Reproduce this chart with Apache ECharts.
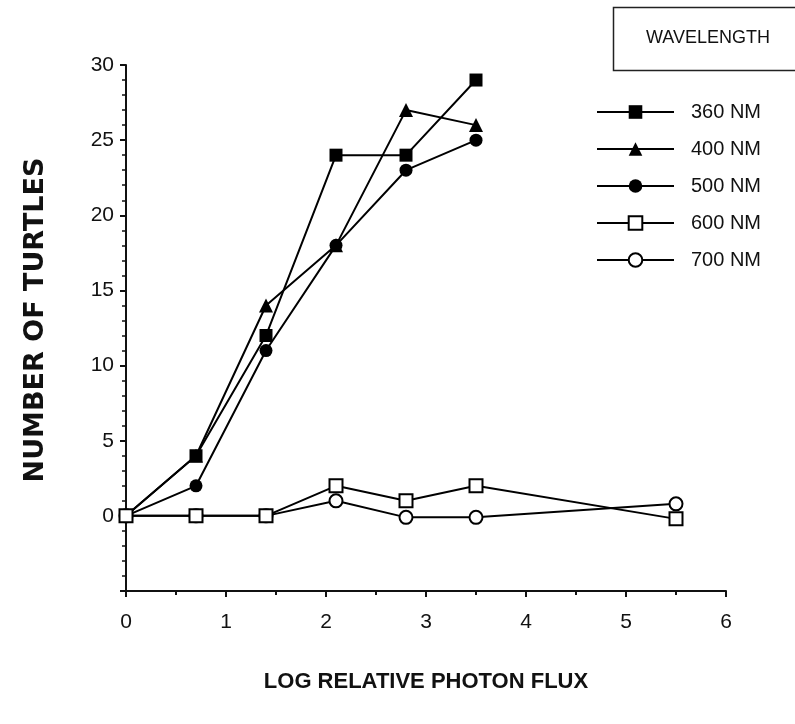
<!DOCTYPE html>
<html>
<head>
<meta charset="utf-8">
<script src="https://cdn.jsdelivr.net/npm/echarts@6/dist/echarts.min.js"></script>
<style>html,body{margin:0;padding:0;background:#fff;}#c{width:795px;height:724px;}</style>
</head>
<body>
<div id="c"></div>
<script>
const fluxX = [0, 0.7, 1.4, 2.1, 2.8, 3.5, 5.5];
const seriesNames = ['360 NM', '400 NM', '500 NM', '600 NM', '700 NM'];
const y360 = [0, 4, 12, 24, 24, 29];
const y400 = [0, 4, 14, 18, 27, 26];
const y500 = [0, 2, 11, 18, 23, 25];
const y600 = [0, 0, 0, 2, 1, 2, -0.2];
const y700 = [0, 0, 0, 1, -0.1, -0.1, 0.8];
const xTicks = [0, 1, 2, 3, 4, 5, 6];
const yTicks = [0, 5, 10, 15, 20, 25, 30];

const FONT = '"Liberation Sans", Arial, sans-serif';
const pair = ys => ys.map((v, i) => [fluxX[i], v]);

function mk(name, ys, symbol, filled, z) {
  return {
    name: name, type: 'line', data: pair(ys), z: z,
    symbol: symbol, symbolSize: symbol === 'triangle' ? 14 : 13,
    showSymbol: true,
    lineStyle: {color: '#000', width: 2},
    itemStyle: {color: filled ? '#000' : '#fff', borderColor: '#000', borderWidth: filled ? 0 : 2},
    emphasis: {disabled: true},
    animation: false
  };
}

const chart = echarts.init(document.getElementById('c'), null, {renderer: 'canvas'});
chart.setOption({
  backgroundColor: '#fff',
  animation: false,
  title: {
    text: 'WAVELENGTH', left: 641, top: 24,
    textStyle: {fontFamily: FONT, fontSize: 18, fontWeight: 'normal', color: '#111'}
  },
  graphic: [{
    type: 'rect', left: 611, top: 5,
    shape: {width: 200, height: 63},
    style: {fill: 'none', stroke: '#222', lineWidth: 1.5}
  }],
  legend: {
    orient: 'vertical', left: 591, top: 97,
    itemWidth: 77, itemHeight: 17, itemGap: 17,
    data: seriesNames,
    textStyle: {fontFamily: FONT, fontSize: 20, color: '#111', padding: [0, 0, 0, 12]}
  },
  grid: {left: 126, right: 69, top: 65, bottom: 133, containLabel: false},
  xAxis: {
    type: 'value', min: 0, max: 6, interval: 1,
    name: 'LOG RELATIVE PHOTON FLUX', nameLocation: 'middle', nameGap: 80,
    nameTextStyle: {fontFamily: FONT, fontSize: 22, fontWeight: 'bold', color: '#111'},
    axisLine: {onZero: false, lineStyle: {color: '#111', width: 2}},
    axisTick: {show: true, inside: false, length: 6, lineStyle: {color: '#111', width: 2}},
    minorTick: {show: true, splitNumber: 2, length: 4, lineStyle: {color: '#111', width: 2}},
    axisLabel: {fontFamily: FONT, fontSize: 21, color: '#111', margin: 21,
      formatter: v => xTicks.includes(v) ? String(v) : ''},
    splitLine: {show: false}
  },
  yAxis: {
    type: 'value', min: -5, max: 30, interval: 5,
    name: 'NUMBER OF TURTLES', nameLocation: 'middle', nameGap: 77, nameRotate: 90,
    nameTextStyle: {fontFamily: '"DejaVu Sans", sans-serif', fontSize: 27, fontWeight: 'bold', color: '#111', padding: [0, 0, 0, 16]},
    axisLine: {show: true, onZero: false, lineStyle: {color: '#111', width: 2}},
    axisTick: {show: true, inside: false, length: 6, lineStyle: {color: '#111', width: 2}},
    minorTick: {show: true, splitNumber: 5, length: 4, lineStyle: {color: '#111', width: 1.5}},
    axisLabel: {fontFamily: FONT, fontSize: 21, color: '#111', margin: 12,
      formatter: v => yTicks.includes(v) ? String(v) : ''},
    splitLine: {show: false}
  },
  series: [
    mk(seriesNames[0], y360, 'rect', true, 2),
    mk(seriesNames[1], y400, 'triangle', true, 3),
    mk(seriesNames[2], y500, 'circle', true, 4),
    mk(seriesNames[3], y600, 'rect', false, 6),
    mk(seriesNames[4], y700, 'circle', false, 5)
  ]
});
</script>
</body>
</html>
